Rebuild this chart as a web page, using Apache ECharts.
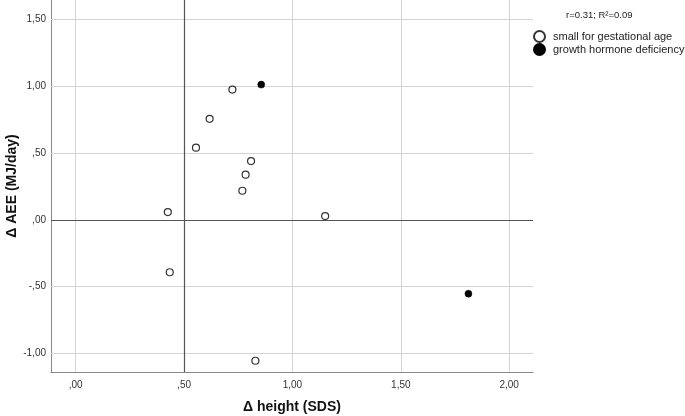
<!DOCTYPE html>
<html><head><meta charset="utf-8">
<script src="https://cdn.jsdelivr.net/npm/echarts@6/dist/echarts.min.js"></script>
<style>html,body{margin:0;padding:0;background:#fff}#c{width:685px;height:416px}</style>
</head><body><div id="c"></div>
<script>
// Data
var sgaX = [0.723, 0.618, 0.555, 0.809, 0.784, 0.769, 0.425, 1.151, 0.434, 0.829];
var sgaY = [0.973, 0.754, 0.539, 0.439, 0.337, 0.217, 0.058, 0.028, -0.392, -1.053];
var ghdX = [0.856, 1.812];
var ghdY = [1.010, -0.552];
var xTicks = [0, 0.5, 1.0, 1.5, 2.0];
var yTicks = [-1.0, -0.5, 0, 0.5, 1.0, 1.5];
var refX = 0.5, refY = 0;
var seriesNames = ['small for gestational age', 'growth hormone deficiency'];
var statText = 'r=0.31; R\u00b2=0.09';
var xTitle = '\u0394 height (SDS)';
var yTitle = '\u0394 AEE (MJ/day)';

function fmt(v){
  var s = Math.abs(v).toFixed(2).replace('.', ',');
  if (s.indexOf('0,') === 0) s = s.slice(1);
  return (v < 0 ? '-' : '') + s;
}
function pairs(xs, ys){ return xs.map(function(x,i){ return [x, ys[i]]; }); }

var gridLines = xTicks.map(function(v){ return {xAxis: v}; })
  .concat(yTicks.map(function(v){ return {yAxis: v}; }));

var font = 'Liberation Sans, Arial, sans-serif';
var chart = echarts.init(document.getElementById('c'));
chart.setOption({
  animation: false,
  backgroundColor: '#fff',
  title: {
    text: statText, left: 561, top: 5,
    textStyle: {fontFamily: font, fontSize: 9.5, fontWeight: 'normal', color: '#222'}
  },
  legend: {
    data: seriesNames, orient: 'vertical', left: 528, top: 25,
    itemWidth: 11, itemHeight: 11, itemGap: 0, icon: 'circle',
    textStyle: {fontFamily: font, fontSize: 11, color: '#222', padding: [0,0,0,3], lineHeight: 12}
  },
  grid: {left: 51, top: 0, right: 152, bottom: 44, containLabel: false, outerBoundsMode: 'none'},
  xAxis: {
    type: 'value', min: -0.114, max: 2.11,
    name: xTitle, nameLocation: 'middle', nameGap: 28, nameMoveOverlap: false,
    nameTextStyle: {fontFamily: font, fontSize: 14, fontWeight: 'bold', color: '#111'},
    axisLine: {show: true, onZero: false, lineStyle: {color: '#888', width: 1}},
    axisTick: {show: false},
    splitLine: {show: false},
    axisLabel: {customValues: xTicks, formatter: fmt, fontFamily: font, fontSize: 10, color: '#333', margin: 8}
  },
  yAxis: {
    type: 'value', min: -1.137, max: 1.642,
    name: yTitle, nameLocation: 'middle', nameGap: 32, nameRotate: 90, nameMoveOverlap: false,
    nameTextStyle: {fontFamily: font, fontSize: 14, fontWeight: 'bold', color: '#111'},
    axisLine: {show: true, onZero: false, lineStyle: {color: '#888', width: 1}},
    axisTick: {show: false},
    splitLine: {show: false},
    axisLabel: {customValues: yTicks, formatter: fmt, fontFamily: font, fontSize: 10, color: '#333', margin: 5}
  },
  series: [
    {
      type: 'scatter', name: 'grid', data: [], silent: true,
      markLine: {
        silent: true, symbol: 'none', label: {show: false},
        lineStyle: {color: '#d4d4d4', width: 1, type: 'solid'},
        data: gridLines, z: 1
      }
    },
    {
      type: 'scatter', name: 'ref', data: [], silent: true,
      markLine: {
        silent: true, symbol: 'none', label: {show: false},
        lineStyle: {color: '#555', width: 1.2, type: 'solid'},
        data: [{xAxis: refX}, {yAxis: refY}]
      }
    },
    {
      type: 'scatter', name: seriesNames[0], data: pairs(sgaX, sgaY),
      symbol: 'circle', symbolSize: 7, z: 5,
      itemStyle: {color: '#fff', borderColor: '#333', borderWidth: 1.2, opacity: 1}
    },
    {
      type: 'scatter', name: seriesNames[1], data: pairs(ghdX, ghdY),
      symbol: 'circle', symbolSize: 7, z: 5,
      itemStyle: {color: '#000', borderColor: '#000', borderWidth: 0.5, opacity: 1}
    }
  ]
});
</script></body></html>
